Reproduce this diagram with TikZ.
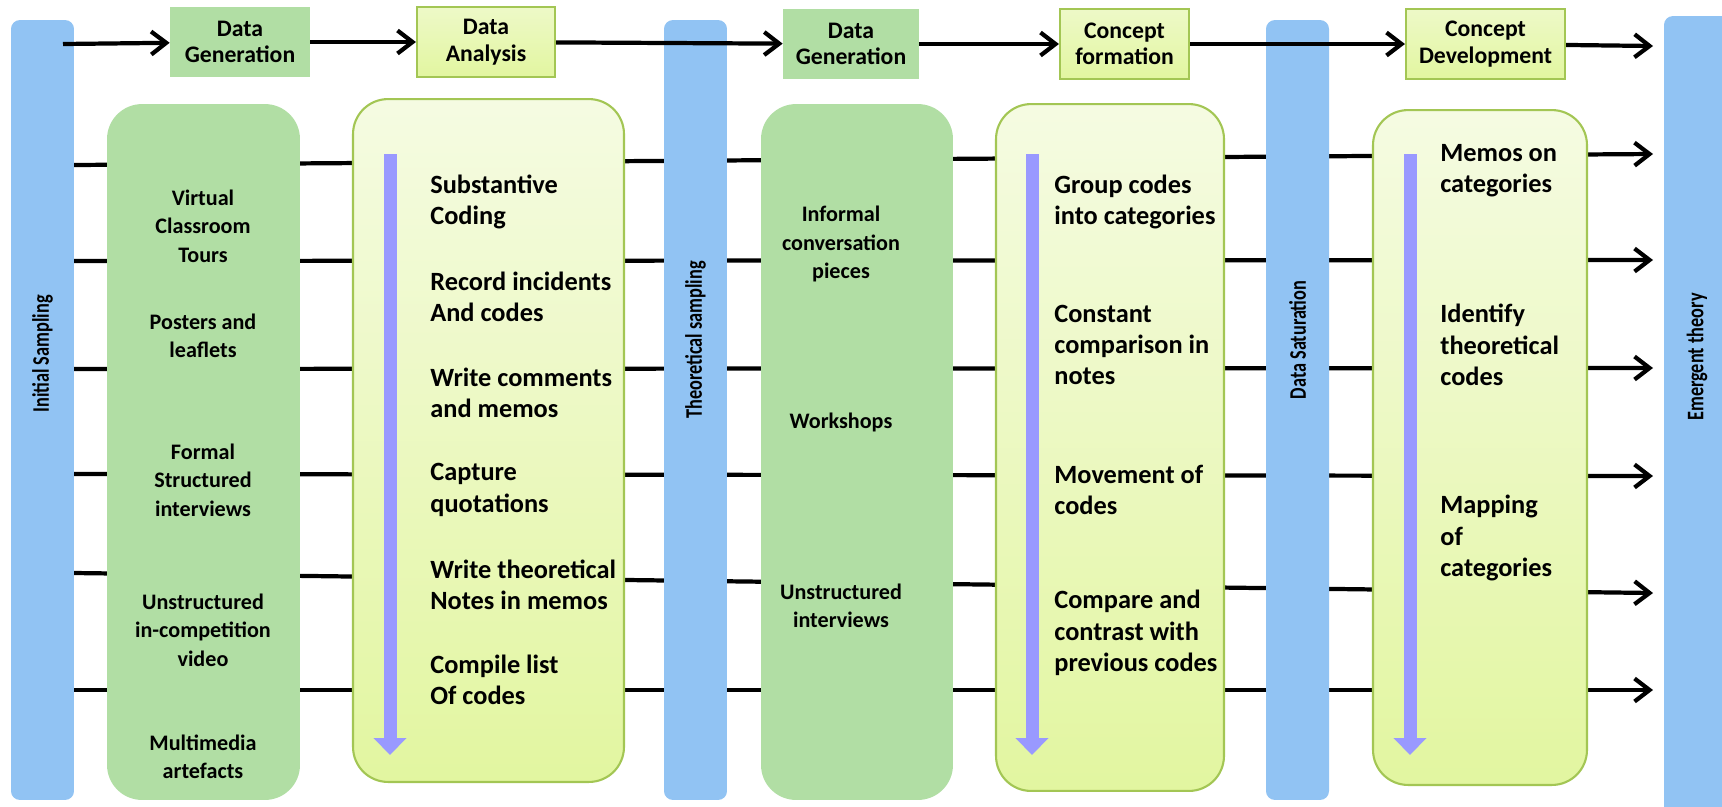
\documentclass[tikz,border=0pt]{standalone}
\usepackage{fontspec}
\setmainfont{Carlito}
\usetikzlibrary{positioning, arrows.meta, backgrounds}
\definecolor{barblue}{RGB}{145,195,243}
\definecolor{leaf}{RGB}{177,222,164}
\definecolor{limetop}{RGB}{245,251,226}
\definecolor{limebot}{RGB}{226,246,160}
\definecolor{olive}{RGB}{163,198,84}
\definecolor{violet}{RGB}{153,153,255}
\definecolor{ink}{RGB}{0,0,0}
\tikzset{
  samplebar/.style={rectangle, rounded corners=5pt, fill=barblue,
                    minimum width=1.26cm, minimum height=15.6cm, inner sep=0pt},
  barlabel/.style ={transform shape, xscale=1.3, rotate=90,
                    font=\fontsize{10.4}{12}\selectfont\bfseries, inner sep=0pt},
  leafbox/.style  ={rectangle, rounded corners=0.7cm, fill=leaf,
                    minimum width=3.86cm, minimum height=13.92cm},
  limebox/.style  ={rectangle, rounded corners=0.7cm, draw=olive, line width=1.2pt,
                    top color=limetop, bottom color=limebot},
  leafhead/.style ={rectangle, fill=leaf, minimum height=1.4cm, align=center,
                    font=\fontsize{13.5}{15}\selectfont\bfseries},
  limehead/.style ={leafhead, draw=olive, line width=1.2pt,
                    top color=limetop!60!limebot, bottom color=limebot},
  itemtext/.style ={align=center, font=\fontsize{12.6}{16.2}\selectfont\bfseries, inner sep=0pt},
  steptext/.style ={anchor=west, align=left, font=\fontsize{15}{17.8}\selectfont\bfseries, inner sep=0pt},
  arr/.style      ={-{Straight Barb[length=0.3cm, width=0.46cm]}, line width=2.4pt, color=ink},
  flow/.style     ={-{Triangle[length=0.34cm, width=0.64cm]}, line width=0.26cm, color=violet},
}
\begin{document}
\begin{tikzpicture}[x=0.02cm, y=-0.02cm]
\useasboundingbox (0,0) rectangle (1722,806);
% sampling bars
\node[samplebar] (init) at (42.5,410) {};
\node[samplebar] (theo) at (695.5,410) {};
\node[samplebar] (satur) at (1297.5,410) {};
\node[samplebar, minimum width=1.4cm, minimum height=16cm] (emerg) at (1699,416) {};
\node[barlabel] (initlbl) at (42.5,354) {Initial Sampling};
\node[barlabel] (theolbl) at (695.5,340) {Theoretical sampling};
\node[barlabel] (saturlbl) at (1297.5,340) {Data Saturation};
\node[barlabel] (emerglbl) at (1697,357) {Emergent theory};

% big boxes
\node[leafbox] (gen1) at (203.5,452) {};
\node[limebox, minimum width=5.42cm, minimum height=13.66cm] (ana) at (488.5,440.5) {};
\node[leafbox, minimum width=3.84cm] (gen2) at (857,452) {};
\node[limebox, minimum width=4.56cm, minimum height=13.74cm] (form) at (1110,447.5) {};
\node[limebox, minimum width=4.28cm, minimum height=13.5cm] (dev) at (1480,447.5) {};

% rows behind everything
\foreach \i/\yl/\yr in {1/165/154, 2/261/260, 3/369/368, 4/474/476, 5/573/593, 6/690/690} {
  \coordinate (l\i) at (74,\yl);
  \coordinate (e\i) at (1653,\yr);
}
\begin{scope}[on background layer]
\foreach \i in {1,...,6} {
  \draw[arr] (l\i) -- (e\i);
}
\end{scope}

% top stages
\node[leafhead, minimum width=2.8cm] (h1) at (240,42) {Data\\Generation};
\node[limehead, minimum width=2.76cm] (h2) at (486,42) {Data\\Analysis};
\node[leafhead, minimum width=2.72cm] (h3) at (851,44) {Data\\Generation};
\node[limehead, minimum width=2.58cm] (h4) at (1124.5,44) {Concept\\formation};
\node[limehead, minimum width=3.18cm] (h5) at (1485.5,44) {Concept\\Development};
\coordinate (start) at (63,44);
\coordinate (finish) at (1653,46);
\draw[arr] (start) -- (h1);
\foreach \a/\b in {1/2, 2/3, 3/4, 4/5} {
  \draw[arr] (h\a) -- (h\b);
}
\draw[arr] (h5) -- (finish);

% data sources
\foreach \i/\y/\txt in {1/226/{Virtual\\Classroom\\Tours}, 2/336/{Posters and\\leaflets},
                        3/480/{Formal\\Structured\\interviews},
                        4/630/{Unstructured\\in-competition\\video}, 5/757/{Multimedia\\artefacts}} {
  \node[itemtext] (g\i) at (203,\y) {\txt};
}
\foreach \i/\y/\txt in {1/244/{Informal\\conversation\\pieces}, 2/422/{Workshops},
                        3/606/{Unstructured\\interviews}} {
  \node[itemtext] (w\i) at (841,\y) {\txt};
}

% analysis steps
\foreach \i/\x in {1/390, 2/1032, 3/1410} {
  \coordinate (ft\i) at (\x,154);
  \coordinate (fb\i) at (\x,755);
  \draw[flow] (ft\i) -- (fb\i);
}
\foreach \i/\y/\txt in {1/202/{Substantive\\Coding}, 2/297/{Record incidents\\And codes},
                        3/393/{Write comments\\and memos}, 4/490/{Capture\\quotations},
                        5/585/{Write theoretical\\Notes in memos}, 6/680/{Compile list\\Of codes}} {
  \node[steptext] (a\i) at (430,\y) {\txt};
}
\foreach \i/\y/\txt in {1/202/{Group codes\\into categories}, 2/345/{Constant\\comparison in\\notes},
                        3/490/{Movement of\\codes}, 4/633/{Compare and\\contrast with\\previous codes}} {
  \node[steptext] (f\i) at (1054,\y) {\txt};
}
\foreach \i/\y/\txt in {1/171/{Memos on\\categories}, 2/345/{Identify\\theoretical\\codes},
                        3/538/{Mapping\\of\\categories}} {
  \node[steptext] (d\i) at (1440,\y) {\txt};
}
\end{tikzpicture}
\end{document}
